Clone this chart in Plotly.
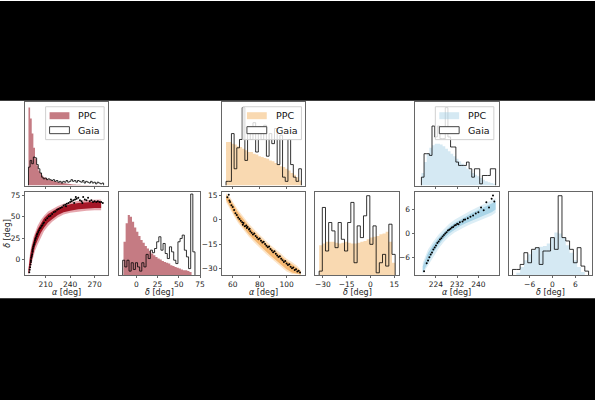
import plotly.graph_objects as go

# ---------------- DATA ----------------
# Panel 1 (red) — top alpha histogram (bin start, bin width, heights as fraction of axis height)
p1_top_start, p1_top_w = 189, 2
p1_top_ppc = [0.93, 0.80, 0.62, 0.45, 0.32, 0.24, 0.18, 0.15, 0.12, 0.10, 0.09, 0.08, 0.07, 0.065,
              0.06, 0.055, 0.05, 0.045, 0.04, 0.035, 0.032, 0.03, 0.027, 0.024, 0.02, 0.018, 0.015,
              0.013, 0.011, 0.01, 0.009, 0.008, 0.007, 0.006, 0.006, 0.005, 0.005, 0.004, 0.004,
              0.003, 0.003, 0.002, 0.002, 0.002, 0.001]
p1_top_gaia = [0.22, 0.30, 0.26, 0.34, 0.33, 0.25, 0.20, 0.15, 0.10, 0.08, 0.09, 0.07, 0.08, 0.07,
               0.06, 0.07, 0.05, 0.06, 0.04, 0.05, 0.03, 0.05, 0.04, 0.06, 0.04, 0.05, 0.07, 0.05,
               0.06, 0.04, 0.06, 0.05, 0.04, 0.06, 0.03, 0.05, 0.04, 0.03, 0.05, 0.03, 0.04, 0.02,
               0.04, 0.03, 0.02, 0.03]
# Panel 1 — right delta histogram
p1_r_ppc_start, p1_r_ppc_w = -15, 2.5
p1_r_ppc = [0.40, 0.62, 0.72, 0.70, 0.64, 0.57, 0.52, 0.47, 0.42, 0.39, 0.35, 0.32, 0.29, 0.26,
            0.24, 0.22, 0.20, 0.19, 0.17, 0.16, 0.15, 0.14, 0.12, 0.11, 0.10, 0.09, 0.08, 0.07,
            0.06, 0.06, 0.05, 0.04]
p1_r_gaia_start, p1_r_gaia_w = -16, 2.5
p1_r_gaia = [0.18, 0.10, 0.18, 0.05, 0.15, 0.07, 0.15, 0.10, 0.05, 0.15, 0.10, 0.25, 0.20, 0.30,
             0.27, 0.32, 0.40, 0.46, 0.30, 0.38, 0.26, 0.20, 0.34, 0.28, 0.18, 0.14, 0.40, 0.44,
             0.48, 0.30, 0.22, 0.08, 0.97, 0.28]
# Panel 1 — scatter: PPC band (alpha, core low/high, fringe low/high) and Gaia stars
band1_a = [189, 191, 193, 195, 197, 200, 204, 208, 213, 218, 225, 232, 240, 250, 260, 270, 278]
band1_lo = [-17, -9, 1, 9, 15, 22, 31, 37, 43, 47, 52, 55, 57, 58.5, 59.5, 60, 60]
band1_hi = [-12, 4, 14, 22, 28, 35, 42, 48, 53, 56, 60, 62.5, 64.5, 66, 67, 67.5, 67.5]
band1_lo2 = [-18, -13, -4, 4, 10, 17, 26, 33, 39, 44, 49, 52.5, 54.5, 56, 57, 57.5, 57.5]
band1_hi2 = [-10, 8, 18, 26, 32, 39, 46, 51, 56, 59, 62.5, 65, 67, 68.5, 69.5, 70, 70]
gaia1_a = [190, 190.5, 191, 191.5, 192, 192, 192.5, 193, 193.5, 194, 194, 194.5, 195, 195.5, 196,
           196.5, 197, 197.5, 198, 199, 199.5, 200, 201, 202, 203, 204, 205, 206, 207, 208, 210,
           212, 214, 216, 218, 220, 222, 224, 226, 228, 230, 232, 234, 236, 238, 240, 242, 244,
           246, 248, 250, 252, 254, 256, 258, 260, 262, 264, 266, 268, 270, 272, 274, 276, 278,
           280, 235, 245, 255, 241, 247]
gaia1_d = [-15, -12, -9, -6, -3, -1, 2, 4, 6, 9, 11, 13, 15, 17, 18, 20, 22, 24, 25, 27, 29, 30,
           32, 34, 36, 37, 39, 40, 42, 43, 46, 48, 50, 51, 53, 55, 56, 58, 59, 60, 61, 63, 64, 65,
           66, 67, 68, 69, 70, 71, 72, 69, 68, 73, 70, 69, 72, 68, 69, 67, 68, 67, 68, 67, 67, 66,
           62, 66, 66, 70, 73]

# Panel 2 (orange)
p2_top_start, p2_top_w = 55, 2
p2_top_ppc = [0.52, 0.52, 0.50, 0.49, 0.47, 0.46, 0.44, 0.42, 0.40, 0.40, 0.38, 0.37, 0.35, 0.34,
              0.33, 0.32, 0.30, 0.29, 0.27, 0.25, 0.23, 0.22, 0.20, 0.18, 0.15, 0.13, 0.10, 0.06]
p2_top_gaia = [0.05, 0.05, 0.62, 0.20, 0.45, 0.55, 0.93, 0.30, 0.70, 0.55, 0.75, 0.40, 0.70, 0.55,
               0.72, 0.35, 0.62, 0.50, 0.68, 0.25, 0.60, 0.10, 0.05, 0.55, 0.25, 0.10, 0.05, 0.20]
p2_r_start, p2_r_w = -32.4, 2
p2_r_ppc = [0.36, 0.38, 0.40, 0.40, 0.40, 0.39, 0.38, 0.39, 0.40, 0.39, 0.38, 0.38, 0.39, 0.40,
            0.41, 0.43, 0.45, 0.46, 0.47, 0.49, 0.50, 0.52, 0.40, 0.15]
p2_r_gaia = [0.05, 0.81, 0.29, 0.63, 0.53, 0.33, 0.63, 0.43, 0.29, 0.63, 0.87, 0.15, 0.59, 0.45,
             0.71, 0.95, 0.37, 0.59, 0.03, 0.15, 0.25, 0.11, 0.61, 0.25]
band2_a = [55, 58, 61, 64, 68, 72, 76, 80, 84, 88, 92, 96, 100, 104, 108, 110.5]
band2_lo = [12.5, 7.5, 3.5, -0.5, -5, -9, -12.5, -16, -19, -22, -25, -27.5, -30.5, -32.5, -33.5, -33.8]
band2_hi = [15.5, 12.5, 8.5, 4.5, 0, -4, -7.5, -11, -14, -17, -20, -22.5, -25.5, -27.5, -30, -32]
band2_lo2 = [11, 6, 2, -2, -6.5, -10.5, -14, -17.5, -20.5, -23.5, -26.5, -29, -32, -33.5, -34, -34]
band2_hi2 = [16.5, 14, 10, 6, 1.5, -2.5, -6, -9.5, -12.5, -15.5, -18.5, -21, -24, -26, -28.5, -31]
gaia2_a = [56, 57, 57.5, 58, 59, 60, 61, 62, 63, 64, 65, 66, 67, 67.5, 68, 69, 70, 70.5, 71, 72,
           72.5, 73, 74, 75, 76, 77, 78, 79, 80, 81, 82, 83, 84, 85, 86, 87, 88, 89, 90, 91, 92,
           93, 94, 95, 96, 97, 98, 99, 100, 101, 102, 103, 104, 105, 106, 107, 108, 109, 110]
gaia2_d = [14, 15.5, 12, 11, 9, 8, 6, 4, 3, 1.5, 0.5, -0.5, -1.5, -3, -2, -4, -3.5, -5, -4.5, -6,
           -5.5, -7, -8, -9, -8.5, -10, -11, -12, -11.5, -13, -14, -13.5, -15, -16, -17, -16.5,
           -18, -19, -20, -19.5, -21, -22, -23, -22.5, -24, -25, -26, -25.5, -27, -28, -27.5, -29,
           -30, -29.5, -31, -30.5, -32, -31.5, -32.5]

# Panel 3 (blue)
p3_top_start, p3_top_w = 218.5, 1
p3_top_ppc = [0.15, 0.28, 0.38, 0.45, 0.48, 0.50, 0.50, 0.49, 0.47, 0.44, 0.41, 0.38, 0.35, 0.32,
              0.29, 0.26, 0.23, 0.20, 0.18, 0.15, 0.13, 0.11, 0.09, 0.07, 0.05, 0.04, 0.03, 0.02]
p3_top_gaia = [0.10, 0.38, 0.38, 0.36, 0.71, 0.58, 0.71, 0.56, 0.56, 0.93, 0.58, 0.46, 0.46, 0.28,
               0.24, 0.24, 0.24, 0.28, 0.20, 0.10, 0.20, 0.20, 0.02, 0.12, 0.12, 0.12, 0.20, 0.20]
p3_r_ppc_start, p3_r_ppc_w = -9.5, 1
p3_r_ppc = [0.03, 0.10, 0.18, 0.25, 0.30, 0.33, 0.34, 0.35, 0.38, 0.45, 0.51, 0.50, 0.45, 0.36,
            0.27, 0.18, 0.10, 0.04]
p3_r_gaia_start, p3_r_gaia_w = -10.5, 1
p3_r_gaia = [0.07, 0.07, 0.13, 0.27, 0.15, 0.31, 0.33, 0.13, 0.29, 0.29, 0.45, 0.31, 0.95, 0.45,
             0.41, 0.31, 0.15, 0.33, 0.11, 0.05]
band3_a = [219, 221, 223, 225, 227, 229, 231, 233, 235, 237, 239, 241, 243, 245, 246.5]
band3_lo = [-9.8, -7.1, -4.8, -2.9, -1.3, 0, 1, 1.8, 2.5, 3.1, 3.7, 4.2, 4.7, 5.3, 6]
band3_hi = [-8.2, -4.9, -2.8, -1.1, 0.3, 1.6, 2.6, 3.4, 4.1, 4.9, 5.5, 6.2, 6.9, 7.5, 8]
band3_lo2 = [-10.2, -8, -5.8, -3.8, -2.1, -0.8, 0.2, 1, 1.7, 2.3, 2.9, 3.4, 3.9, 4.5, 5.2]
band3_hi2 = [-7.4, -4, -2, -0.3, 1.1, 2.4, 3.4, 4.2, 4.9, 5.7, 6.3, 7, 7.7, 8.3, 8.8]
gaia3_a = [219.5, 220.5, 221, 221.5, 222, 222.5, 223, 223.5, 224, 224.5, 225, 225.5, 226, 226.5,
           227, 227.5, 228, 228.5, 229, 229.5, 230, 230.5, 231, 231.5, 232, 232.5, 233, 234, 234.5,
           235, 236, 237, 238, 239, 240, 241, 242, 243, 244, 245, 245.5, 246]
gaia3_d = [-9.5, -7.5, -6.8, -6, -5.3, -4.8, -4, -3.5, -3, -2.4, -2, -1.5, -1.2, -0.8, -0.4, 0,
           0.3, 0.7, 0.9, 1.2, 1.5, 1.6, 2, 2.1, 2.4, 2.3, 2.8, 3, 3.4, 3.5, 3.8, 4.2, 4.5, 5, 5.3,
           6.5, 5.8, 7.8, 6.5, 8.7, 9.5, 8]

# axis labels
alpha_t = "<i>α</i> [deg]"
delta_t = "<i>δ</i> [deg]"
x_titles = [alpha_t, delta_t, alpha_t, delta_t, alpha_t, delta_t]

# ---------------- STYLE ----------------
FONT = "DejaVu Sans"
AX = "#666"
C_RED_H = "rgba(150,15,30,0.55)"
C_ORA_H = "rgba(240,160,60,0.40)"
C_BLU_H = "rgba(150,200,225,0.40)"
C_GAIA = "rgba(0,0,0,0.8)"

fig = go.Figure()


def step(start, w, h):
    xs, ys = [start], [0]
    for i, v in enumerate(h):
        xs.append(start + i * w)
        ys.append(v)
    end = start + len(h) * w
    xs += [end, end]
    ys += [h[-1], 0]
    return xs, ys


def hist(xa, ya, start, w, h, fillcolor=None):
    xs, ys = step(start, w, h)
    if fillcolor:
        fig.add_trace(go.Scatter(x=xs, y=ys, mode="lines", line=dict(width=0, shape="hv"),
                                 fill="tozeroy", fillcolor=fillcolor, xaxis=xa, yaxis=ya,
                                 showlegend=False, hoverinfo="skip"))
    else:
        fig.add_trace(go.Scatter(x=xs, y=ys, mode="lines",
                                 line=dict(width=1, shape="hv", color=C_GAIA),
                                 xaxis=xa, yaxis=ya, showlegend=False, hoverinfo="skip"))


def band(xa, ya, a, lo, hi, color):
    fig.add_trace(go.Scatter(x=a + a[::-1], y=lo + hi[::-1], mode="lines", line=dict(width=0),
                             fill="toself", fillcolor=color, xaxis=xa, yaxis=ya,
                             showlegend=False, hoverinfo="skip"))


def pts(xa, ya, a, d):
    fig.add_trace(go.Scatter(x=a, y=d, mode="markers",
                             marker=dict(size=2.0, color="black", line=dict(width=0)),
                             xaxis=xa, yaxis=ya, showlegend=False, hoverinfo="skip"))


# panel 1
hist("x", "y", p1_top_start, p1_top_w, p1_top_ppc, C_RED_H)
hist("x", "y", p1_top_start, p1_top_w, p1_top_gaia)
band("x2", "y2", band1_a, band1_lo2, band1_hi2, "rgba(200,60,75,0.45)")
band("x2", "y2", band1_a, band1_lo, band1_hi, "rgb(165,22,38)")
pts("x2", "y2", gaia1_a, gaia1_d)
hist("x3", "y3", p1_r_ppc_start, p1_r_ppc_w, p1_r_ppc, C_RED_H)
hist("x3", "y3", p1_r_gaia_start, p1_r_gaia_w, p1_r_gaia)
# panel 2
hist("x4", "y4", p2_top_start, p2_top_w, p2_top_ppc, C_ORA_H)
hist("x4", "y4", p2_top_start, p2_top_w, p2_top_gaia)
band("x5", "y5", band2_a, band2_lo2, band2_hi2, "rgba(248,195,130,0.45)")
band("x5", "y5", band2_a, band2_lo, band2_hi, "rgb(246,185,115)")
pts("x5", "y5", gaia2_a, gaia2_d)
hist("x6", "y6", p2_r_start, p2_r_w, p2_r_ppc, C_ORA_H)
hist("x6", "y6", p2_r_start, p2_r_w, p2_r_gaia)
# panel 3
hist("x7", "y7", p3_top_start, p3_top_w, p3_top_ppc, C_BLU_H)
hist("x7", "y7", p3_top_start, p3_top_w, p3_top_gaia)
band("x8", "y8", band3_a, band3_lo2, band3_hi2, "rgba(185,222,238,0.5)")
band("x8", "y8", band3_a, band3_lo, band3_hi, "rgb(170,213,232)")
pts("x8", "y8", gaia3_a, gaia3_d)
hist("x9", "y9", p3_r_ppc_start, p3_r_ppc_w, p3_r_ppc, C_BLU_H)
hist("x9", "y9", p3_r_gaia_start, p3_r_gaia_w, p3_r_gaia)

# ---------------- LAYOUT ----------------
W, H = 600, 400
cols = [(25, 109), (120, 202), (224, 308), (318, 402), (418, 503), (513, 597)]
top_row = (101, 185)
bot_row = (191, 275)


def xd(c):
    return [c[0] / W, c[1] / W]


def yd(r):
    return [1 - r[1] / H, 1 - r[0] / H]


tickfont = dict(family=FONT, size=7.5, color="#222")
titlefont = dict(family=FONT, size=8, color="#222")


def xax(col, rng, tickvals, labels=True, anchor="y"):
    return dict(domain=xd(col), range=rng, anchor=anchor, showline=True, mirror=True,
                linecolor=AX, linewidth=1, showgrid=False, zeroline=False, ticks="outside",
                ticklen=2, tickcolor=AX, tickvals=tickvals, showticklabels=labels,
                tickfont=tickfont, fixedrange=True)


def yax(row, rng, anchor, tickvals=None):
    d = dict(domain=yd(row), range=rng, anchor=anchor, showline=True, mirror=True,
             linecolor=AX, linewidth=1, showgrid=False, zeroline=False, fixedrange=True)
    if tickvals is None:
        d.update(ticks="", showticklabels=False)
    else:
        d.update(ticks="outside", ticklen=2, tickcolor=AX, tickvals=tickvals,
                 tickfont=tickfont)
    return d


a1 = [184.5, 286.5]
a2 = [52.1, 114]
a3 = [215.9, 247.7]

fig.update_layout(
    width=W, height=H, margin=dict(l=0, r=0, t=0, b=0),
    paper_bgcolor="white", plot_bgcolor="white", showlegend=False,
    font=dict(family=FONT),
    xaxis=xax(cols[0], a1, [210, 240, 270], labels=False, anchor="y"),
    yaxis=yax(top_row, [0, 1], "x"),
    xaxis2=xax(cols[0], a1, [210, 240, 270], anchor="y2"),
    yaxis2=yax(bot_row, [-18.5, 79.3], "x2", [0, 25, 50, 75]),
    xaxis3=xax(cols[1], [-20.3, 75.3], [0, 25, 50, 75], anchor="y3"),
    yaxis3=yax(bot_row, [0, 1], "x3"),
    xaxis4=xax(cols[2], a2, [60, 80, 100], labels=False, anchor="y4"),
    yaxis4=yax(top_row, [0, 1], "x4"),
    xaxis5=xax(cols[2], a2, [60, 80, 100], anchor="y5"),
    yaxis5=yax(bot_row, [-34.3, 17.5], "x5", [-30, -15, 0, 15]),
    xaxis6=xax(cols[3], [-34.8, 17.8], [-30, -15, 0, 15], anchor="y6"),
    yaxis6=yax(bot_row, [0, 1], "x6"),
    xaxis7=xax(cols[4], a3, [224, 232, 240], labels=False, anchor="y7"),
    yaxis7=yax(top_row, [0, 1], "x7"),
    xaxis8=xax(cols[4], a3, [224, 232, 240], anchor="y8"),
    yaxis8=yax(bot_row, [-10.5, 10.5], "x8", [-6, 0, 6]),
    xaxis9=xax(cols[5], [-11.5, 10.4], [-6, 0, 6], anchor="y9"),
    yaxis9=yax(bot_row, [0, 1], "x9"),
)

shapes = []
annotations = []

# axis titles placed as annotations
for c, t in zip(cols, x_titles):
    annotations.append(dict(text=t, xref="paper", yref="paper", x=(c[0] + c[1]) / 2 / W,
                            y=1 - 298 / H, xanchor="center", yanchor="bottom",
                            showarrow=False, font=titlefont, borderpad=0))
annotations.append(dict(text=delta_t, xref="paper", yref="paper", x=7.5 / W,
                        y=1 - 233 / H, xanchor="center", yanchor="middle", textangle=-90,
                        showarrow=False, font=titlefont))

# manual matplotlib-like legends in the top histograms
legend_cols = [(cols[0][0], C_RED_H), (cols[2][0], C_ORA_H), (cols[4][0], C_BLU_H)]
for left, col in legend_cols:
    def px(x):
        return (left + x) / W

    def py(y):
        return 1 - y / H

    shapes.append(dict(type="rect", xref="paper", yref="paper", x0=px(21), x1=px(80),
                       y0=py(139), y1=py(106), fillcolor="rgba(255,255,255,0.8)",
                       line=dict(color="#d0d0d0", width=1), layer="above"))
    shapes.append(dict(type="rect", xref="paper", yref="paper", x0=px(25), x1=px(45),
                       y0=py(118.5), y1=py(111.5), fillcolor=col, line=dict(width=0),
                       layer="above"))
    shapes.append(dict(type="rect", xref="paper", yref="paper", x0=px(25), x1=px(45),
                       y0=py(133), y1=py(126), fillcolor="white",
                       line=dict(color="#444", width=1), layer="above"))
    annotations.append(dict(text="PPC", xref="paper", yref="paper", x=px(52), y=py(115),
                            xanchor="left", yanchor="middle", showarrow=False,
                            font=dict(family=FONT, size=9.5, color="#111")))
    annotations.append(dict(text="Gaia", xref="paper", yref="paper", x=px(52), y=py(129.5),
                            xanchor="left", yanchor="middle", showarrow=False,
                            font=dict(family=FONT, size=9.5, color="#111")))

# black letterbox bands
shapes.append(dict(type="rect", xref="paper", yref="paper", x0=0, x1=1, y0=1 - 100 / H, y1=1,
                   fillcolor="black", line=dict(width=0), layer="above"))
shapes.append(dict(type="rect", xref="paper", yref="paper", x0=0, x1=1, y0=0, y1=1 - 298 / H,
                   fillcolor="black", line=dict(width=0), layer="above"))

fig.update_layout(shapes=shapes, annotations=annotations)
fig.write_html("out.html")
